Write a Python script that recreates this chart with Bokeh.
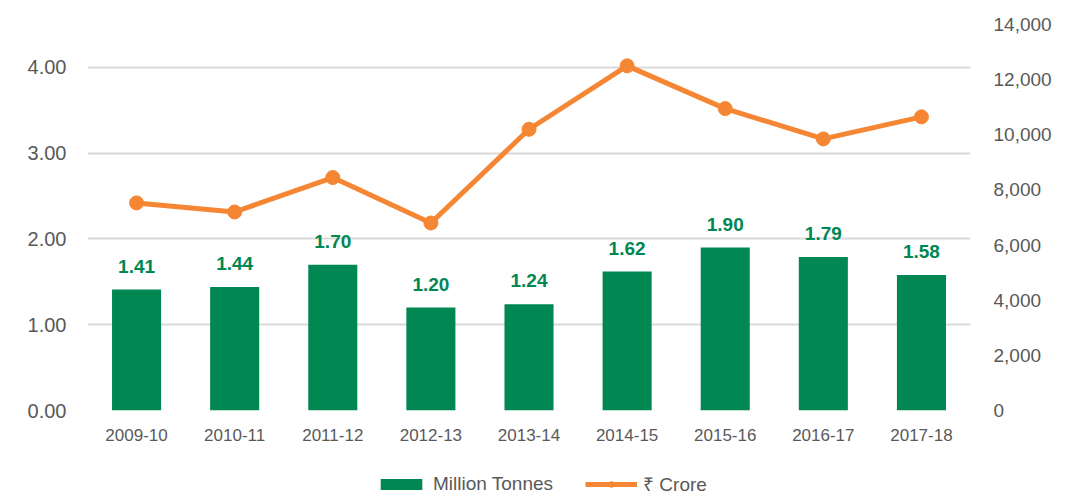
from bokeh.plotting import figure
from bokeh.layouts import column
from bokeh.models import (FactorRange, Range1d, LinearAxis, FixedTicker, NumeralTickFormatter,
                          Legend, LegendItem, ColumnDataSource, LabelSet)
from bokeh.core.properties import value
from bokeh.embed import file_html
from bokeh.resources import INLINE

years = ["2009-10", "2010-11", "2011-12", "2012-13", "2013-14",
         "2014-15", "2015-16", "2016-17", "2017-18"]
million_tonnes = [1.41, 1.44, 1.70, 1.20, 1.24, 1.62, 1.90, 1.79, 1.58]
rs_crore = [7530, 7200, 8450, 6800, 10200, 12500, 10950, 9850, 10650]
left_ticks = [0, 1, 2, 3, 4]
right_ticks = [0, 2000, 4000, 6000, 8000, 10000, 12000, 14000]
series_names = ["Million Tonnes", "₹ Crore"]

GREEN = "#008752"
ORANGE = "#F58634"
GREY = "#595959"
FONT = "Liberation Sans"

src = ColumnDataSource(dict(
    year=years, tonnes=million_tonnes, crore=rs_crore,
    lbl=[f"{v:.2f}" for v in million_tonnes],
))

p = figure(x_range=FactorRange(*years, range_padding=0),
           y_range=Range1d(0, 4.5),
           frame_width=883, frame_height=386,
           min_border_left=87, min_border_right=96,
           min_border_top=24, min_border_bottom=52,
           output_backend="svg", toolbar_location=None)
p.extra_y_ranges = {"right": Range1d(0, 14000)}
p.outline_line_color = None
p.background_fill_color = "white"
p.border_fill_color = "white"

p.vbar(x="year", top="tonnes", width=0.5, source=src,
       fill_color=GREEN, line_color=None)
p.line(x="year", y="crore", source=src, y_range_name="right",
       line_color=ORANGE, line_width=5)
p.scatter(x="year", y="crore", source=src, y_range_name="right",
          size=14, fill_color=ORANGE, line_color=ORANGE)

labels = LabelSet(x="year", y="tonnes", text="lbl", source=src,
                  text_align="center", text_baseline="alphabetic", y_offset=17,
                  text_font=value(FONT), text_font_style="bold",
                  text_font_size="19px", text_color=GREEN)
p.add_layout(labels)

# left axis
ya = p.yaxis[0]
ya.ticker = FixedTicker(ticks=left_ticks)
ya.formatter = NumeralTickFormatter(format="0.00")
ya.axis_line_color = None
ya.major_tick_line_color = None
ya.minor_tick_line_color = None
ya.major_tick_out = 0
ya.minor_tick_out = 0
ya.major_label_standoff = 21
ya.major_label_text_font = FONT
ya.major_label_text_font_size = "20px"
ya.major_label_text_color = GREY

# right axis
ra = LinearAxis(y_range_name="right", ticker=FixedTicker(ticks=right_ticks),
                formatter=NumeralTickFormatter(format="0,0"))
ra.axis_line_color = None
ra.major_tick_line_color = None
ra.minor_tick_line_color = None
ra.major_tick_out = 0
ra.minor_tick_out = 0
ra.major_label_standoff = 23
ra.major_label_text_font = FONT
ra.major_label_text_font_size = "19px"
ra.major_label_text_color = GREY
p.add_layout(ra, "right")

# x axis
xa = p.xaxis[0]
xa.axis_line_color = None
xa.major_tick_line_color = None
xa.minor_tick_line_color = None
xa.major_tick_out = 0
xa.major_label_standoff = 18
xa.major_label_text_font = FONT
xa.major_label_text_font_size = "17px"
xa.major_label_text_color = GREY

p.xgrid.visible = False
p.ygrid.ticker = FixedTicker(ticks=left_ticks)
p.ygrid.grid_line_color = "#D9D9D9"
p.ygrid.grid_line_width = 2

# legend strip below the chart (its own small figure so nothing is clipped);
# its renderers reuse the same data but the view range keeps them out of sight
lg = figure(x_range=FactorRange(*years, range_padding=0),
            y_range=Range1d(100000, 100001),
            frame_width=1066, frame_height=35,
            min_border=0, x_axis_type=None, y_axis_type=None,
            output_backend="svg", toolbar_location=None)
lg.outline_line_color = None
lg.xgrid.visible = False
lg.ygrid.visible = False
lbar = lg.vbar(x="year", top="tonnes", width=0.5, source=src,
               fill_color=GREEN, line_color=None)
lline = lg.line(x="year", y="crore", source=src, line_color=ORANGE, line_width=5)
ldot = lg.scatter(x="year", y="crore", source=src, size=14,
                  fill_color=ORANGE, line_color=ORANGE)

legend = Legend(items=[LegendItem(label=series_names[0], renderers=[lbar], index=0),
                       LegendItem(label=series_names[1], renderers=[lline, ldot], index=0)],
                orientation="horizontal", location=(375, 0),
                glyph_width=52, glyph_height=14, label_standoff=6, spacing=32,
                padding=0, margin=0, border_line_color=None,
                background_fill_alpha=0,
                label_text_font=FONT, label_text_font_size="19px",
                label_text_color=GREY, label_height=16)
lg.add_layout(legend)

open("out.html", "w").write(file_html(column(p, lg, spacing=0), INLINE))
